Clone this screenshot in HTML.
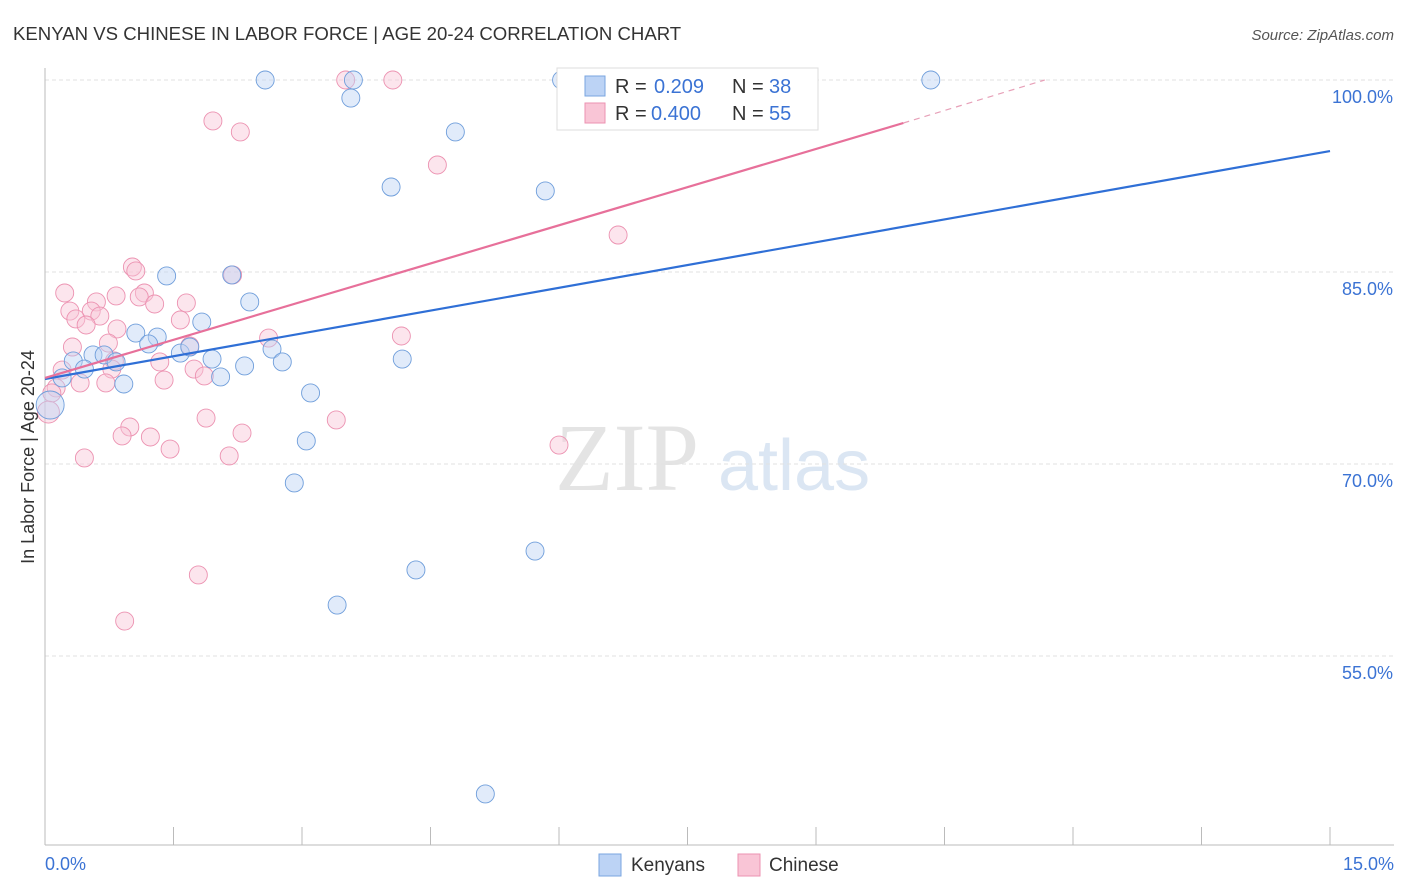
<!DOCTYPE html>
<html><head><meta charset="utf-8">
<style>
body{margin:0;background:#fff;font-family:"Liberation Sans",sans-serif;}
svg{display:block}
</style></head>
<body>
<svg id="chart" width="1406" height="892" xmlns="http://www.w3.org/2000/svg">
<text x="13" y="40" font-size="18.6" fill="#333">KENYAN VS CHINESE IN LABOR FORCE | AGE 20-24 CORRELATION CHART</text>
<text x="1394" y="40" font-size="15" fill="#555" text-anchor="end" font-style="italic">Source: ZipAtlas.com</text>
<g>
<text x="555" y="490" font-size="96" fill="#e4e4e4" font-family="Liberation Serif">ZIP</text>
<text x="718" y="490" font-size="72" fill="#dbe6f3">atlas</text>
</g>
<g id="grid"></g>
<g id="axes"></g>
<g id="marks"></g>
<text transform="translate(34,457) rotate(-90)" font-size="18" fill="#333" text-anchor="middle">In Labor Force | Age 20-24</text>
<g>
<rect x="557" y="68" width="261" height="62" fill="#fff" stroke="#ddd"/>
<rect x="585" y="76" width="20" height="20" fill="#bcd3f5" stroke="#7aa6e0"/>
<rect x="585" y="103" width="20" height="20" fill="#f9c5d6" stroke="#ec92b1"/>
<text x="615" y="93" font-size="20" fill="#333">R = </text>
<text x="654" y="93" font-size="20" fill="#3b73d4">0.209</text>
<text x="732" y="93" font-size="20" fill="#333">N = </text>
<text x="769" y="93" font-size="20" fill="#3b73d4">38</text>
<text x="615" y="120" font-size="20" fill="#333">R = </text>
<text x="651" y="120" font-size="20" fill="#3b73d4">0.400</text>
<text x="732" y="120" font-size="20" fill="#333">N = </text>
<text x="769" y="120" font-size="20" fill="#3b73d4">55</text>
</g>
<g>
<rect x="599" y="854" width="22" height="22" fill="#bcd3f5" stroke="#7aa6e0"/>
<text x="631" y="871" font-size="19" fill="#333">Kenyans</text>
<rect x="738" y="854" width="22" height="22" fill="#f9c5d6" stroke="#ec92b1"/>
<text x="769" y="871" font-size="19" fill="#333">Chinese</text>
</g>
</svg>
<script>
const yTicks=[100,85,70,55];
const yTickLabels=["100.0%","85.0%","70.0%","55.0%"];
const kenX=[2.57,3.60,3.57,6.03,10.34,4.79,4.04,5.84,1.42,2.18,2.39,1.83,1.06,1.31,1.21,1.58,1.69,0.56,0.69,0.33,1.95,0.83,0.46,2.33,2.65,2.77,4.17,2.05,0.20,0.92,3.10,3.05,2.91,5.72,4.33,3.41,5.14,0.06];
const kenY=[100,100,98.59,100,100,95.94,91.64,91.33,84.69,84.77,82.66,81.09,80.23,79.92,79.38,78.67,79.14,78.52,78.52,78.05,78.20,77.97,77.42,77.66,78.98,77.97,78.20,76.80,76.72,76.25,75.55,71.80,68.52,63.20,61.72,58.98,44.22,74.61];
const chiX=[3.51,4.06,8.28,1.96,2.28,4.58,6.69,1.02,1.06,2.19,0.23,0.83,1.16,1.10,0.60,1.65,1.28,0.29,0.54,0.64,0.36,1.58,0.48,0.84,2.61,4.16,0.74,0.32,1.69,1.34,0.81,0.20,1.74,0.78,1.86,0.41,1.39,0.71,0.13,0.08,1.88,3.40,0.99,0.90,1.23,2.30,1.46,6.00,0.46,2.15,1.79,0.93,0.04];
const chiY=[100,100,100,96.80,95.94,93.36,87.89,85.39,85.08,84.77,83.36,83.13,83.36,83.05,82.66,82.58,82.50,81.95,81.95,81.56,81.33,81.25,80.86,80.55,79.84,80.00,79.45,79.14,79.22,77.97,78.05,77.34,77.42,77.42,76.88,76.33,76.56,76.33,75.94,75.55,73.59,73.44,72.89,72.19,72.11,72.42,71.17,71.48,70.47,70.63,61.33,57.73,74.06];
const kenTrend=[0,76.64,15,94.45];
const chiTrend=[0,76.72,10.02,96.64,11.67,100];
const NS="http://www.w3.org/2000/svg";
const X=v=>45+v*85.667, Y=v=>80+(100-v)*12.8;
function mk(t,a,p){const e=document.createElementNS(NS,t);for(const k in a)e.setAttribute(k,a[k]);p.appendChild(e);return e;}
const grid=document.getElementById('grid'),axes=document.getElementById('axes'),marks=document.getElementById('marks');
yTicks.forEach((t,i)=>{
 const l=mk('line',{x1:45,x2:1394,y1:Y(t),y2:Y(t),stroke:'#e2e2e2','stroke-dasharray':'4,3'},grid);
 
 
 const tx=mk('text',{x:1393,y:Y(t)+23,'font-size':18,fill:'#3b73d4','text-anchor':'end'},axes);
 tx.textContent=yTickLabels[i];
 
 
});
mk('line',{x1:45,x2:45,y1:68,y2:845,stroke:'#bbb'},axes);
mk('line',{x1:45,x2:1394,y1:845,y2:845,stroke:'#bbb'},axes);
for(let i=0;i<=10;i++){const x=X(i*1.5);mk('line',{x1:x,x2:x,y1:827,y2:845,stroke:'#bbb'},axes);}
const xl=mk('text',{x:45,y:870,'font-size':18,fill:'#3b73d4'},axes);xl.textContent='0.0%';


const xr=mk('text',{x:1394,y:870,'font-size':18,fill:'#3b73d4','text-anchor':'end'},axes);xr.textContent='15.0%';


function pts(xs,ys,fill,stroke,name){xs.forEach((v,i)=>{
 const r=(i===xs.length-1)?(name==='kenyan-point'?14:11):9;
 const c=mk('circle',{cx:X(v),cy:Y(ys[i]),r:r,fill:fill,'fill-opacity':0.45,stroke:stroke,'stroke-width':0.9},marks);
 
 
});}
pts(chiX,chiY,'#f9c5d6','#ec92b1','chinese-point');
pts(kenX,kenY,'#bcd3f5','#6f9edb','kenyan-point');
const bl=mk('line',{x1:X(kenTrend[0]),y1:Y(kenTrend[1]),x2:X(kenTrend[2]),y2:Y(kenTrend[3]),stroke:'#2f6fd6','stroke-width':2.2},marks);


const pl=mk('line',{x1:X(chiTrend[0]),y1:Y(chiTrend[1]),x2:X(chiTrend[2]),y2:Y(chiTrend[3]),stroke:'#e7709a','stroke-width':2.2},marks);


const pd=mk('line',{x1:X(chiTrend[2]),y1:Y(chiTrend[3]),x2:X(chiTrend[4]),y2:Y(chiTrend[5]),stroke:'#e7a0b8','stroke-width':1.2,'stroke-dasharray':'6,5'},marks);


</script>
</body></html>
